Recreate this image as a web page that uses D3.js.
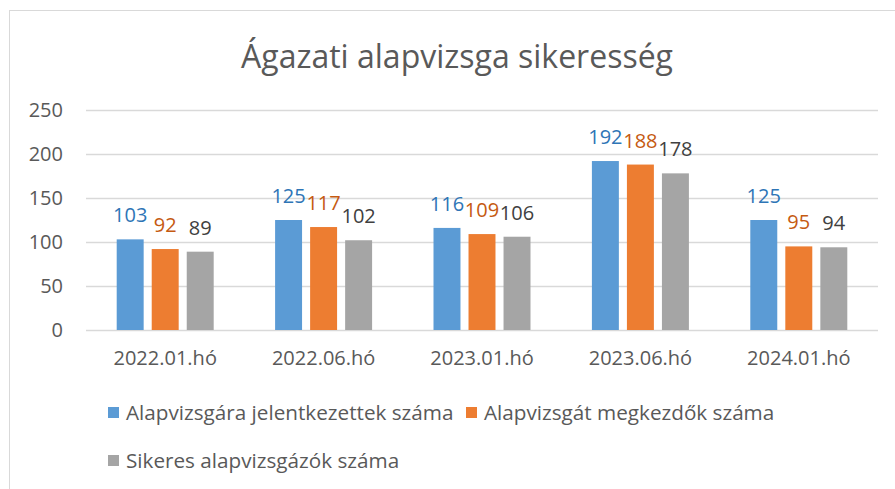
<!DOCTYPE html>
<html>
<head>
<meta charset="utf-8">
<script src="https://cdn.jsdelivr.net/npm/d3@7"></script>
<style>
  body { margin: 0; background: #fff; }
  text { font-family: "Open Sans", "Noto Sans", sans-serif; }
</style>
</head>
<body>
<div id="chart"></div>
<script>
// Chart data
const categories = ["2022.01.hó", "2022.06.hó", "2023.01.hó", "2023.06.hó", "2024.01.hó"];
const seriesNames = ["Alapvizsgára jelentkezettek száma", "Alapvizsgát megkezdők száma", "Sikeres alapvizsgázók száma"];
const registered = [103, 125, 116, 192, 125];
const started = [92, 117, 109, 188, 95];
const passed = [89, 102, 106, 178, 94];
const yTicks = [0, 50, 100, 150, 200, 250];

const barColors = ["#5B9BD5", "#ED7D31", "#A5A5A5"];
const labelColors = ["#2E75B6", "#C55A11", "#404040"];

const W = 895, H = 489;
const margin = { top: 110, right: 17, bottom: 159, left: 86 },
  width = W - margin.left - margin.right,
  height = H - margin.top - margin.bottom;

const svg = d3.select("#chart")
  .append("svg")
  .attr("width", W)
  .attr("height", H);

// outer chart border
svg.append("rect")
  .attr("x", 9.5).attr("y", 10.5)
  .attr("width", W + 10).attr("height", H + 10)
  .attr("fill", "none")
  .attr("stroke", "#D9D9D9");

svg.append("text")
  .attr("x", 457)
  .attr("y", 68)
  .attr("text-anchor", "middle")
  .attr("fill", "#595959")
  .style("font-size", "32px")
  .text("Ágazati alapvizsga sikeresség");

const g = svg.append("g")
  .attr("transform", `translate(${margin.left},${margin.top})`);

const series = [registered, started, passed];
const rows = categories.map((c, i) => ({ cat: c, values: series.map(s => s[i]) }));

const x0 = d3.scaleBand().domain(categories).range([0, width]);
const groupW = 97;
const x1 = d3.scaleBand().domain(d3.range(3))
  .range([(x0.bandwidth() - groupW) / 2, (x0.bandwidth() + groupW) / 2])
  .paddingInner(0.23);
const y = d3.scaleLinear().domain([0, 250]).range([height, 0]);

// gridlines
g.selectAll(".grid")
  .data(yTicks)
  .enter()
  .append("line")
  .attr("x1", 0).attr("x2", width)
  .attr("y1", d => y(d) + 0.5).attr("y2", d => y(d) + 0.5)
  .attr("stroke", "#D9D9D9")
  .attr("stroke-width", 1.3);

// y axis labels
const yAxis = d3.axisLeft(y).tickValues(yTicks).tickSize(0).tickPadding(23);
g.append("g")
  .call(yAxis)
  .call(s => s.select(".domain").remove())
  .selectAll("text")
  .attr("fill", "#595959")
  .style("font-size", "20px");

// x axis labels
const xAxis = d3.axisBottom(x0).tickSize(0).tickPadding(21);
g.append("g")
  .attr("transform", `translate(0,${height})`)
  .call(xAxis)
  .call(s => s.select(".domain").remove())
  .selectAll("text")
  .attr("fill", "#595959")
  .style("font-size", "20px");

const groups = g.selectAll(".group")
  .data(rows)
  .enter()
  .append("g")
  .attr("transform", d => `translate(${x0(d.cat)},0)`);

groups.selectAll("rect")
  .data(d => d.values)
  .enter()
  .append("rect")
  .attr("x", (d, i) => x1(i))
  .attr("width", x1.bandwidth())
  .attr("y", d => y(d))
  .attr("height", d => height - y(d))
  .attr("fill", (d, i) => barColors[i]);

groups.selectAll(".lbl")
  .data(d => d.values)
  .enter()
  .append("text")
  .attr("x", (d, i) => x1(i) + x1.bandwidth() / 2)
  .attr("y", d => y(d) - 17)
  .attr("text-anchor", "middle")
  .attr("fill", (d, i) => labelColors[i])
  .style("font-size", "20px")
  .text(d => d);

// legend
const legendPos = [[108, 407], [466, 407], [108, 455]];
const legend = svg.selectAll(".legend")
  .data(seriesNames)
  .enter()
  .append("g")
  .attr("transform", (d, i) => `translate(${legendPos[i][0]},${legendPos[i][1]})`);

legend.append("rect")
  .attr("width", 11).attr("height", 11)
  .attr("fill", (d, i) => barColors[i]);

legend.append("text")
  .attr("x", 18)
  .attr("y", 13)
  .attr("fill", "#595959")
  .style("font-size", "20.7px")
  .text(d => d);
</script>
</body>
</html>
